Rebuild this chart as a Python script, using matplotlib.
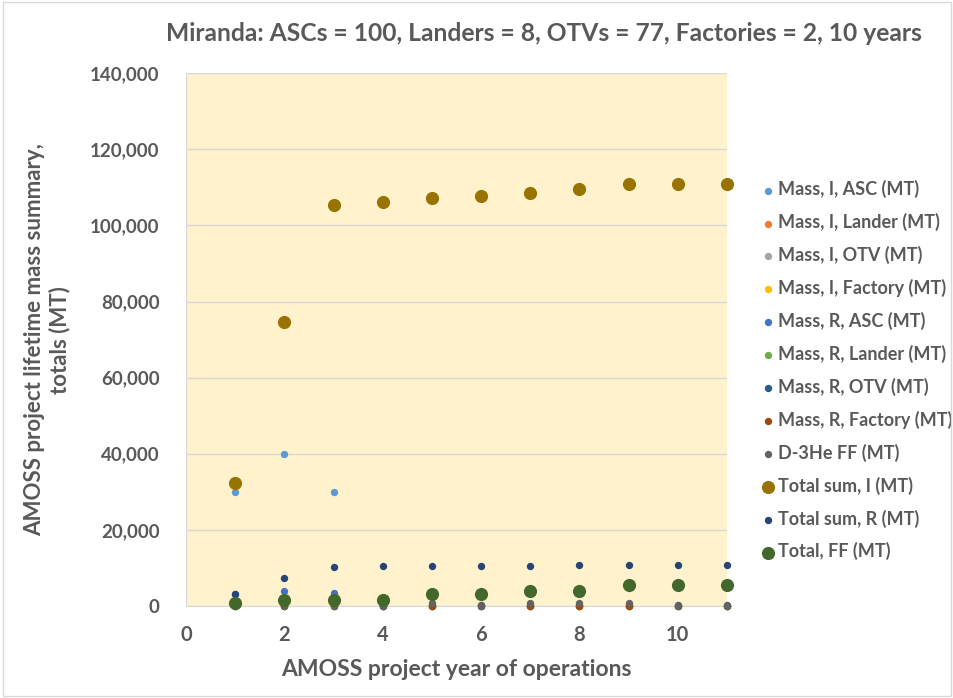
import matplotlib
matplotlib.use("Agg")
import matplotlib.pyplot as plt
from matplotlib.ticker import FuncFormatter
from matplotlib.patches import Rectangle

plt.rcParams['font.family'] = ['Lato', 'DejaVu Sans']
plt.rcParams['font.weight'] = 'bold'

years = [1, 2, 3, 4, 5, 6, 7, 8, 9, 10, 11]

mass_i_asc = [30000, 40000, 30000, 0, 0, 0, 0, 0, 0, 0, 0]
mass_i_lander = [0, 0, 0, 0, 0, 0, 0, 0, 0, 0, 0]
mass_i_otv = [0, 0, 0, 0, 0, 0, 0, 0, 0, 0, 0]
mass_i_factory = [0, 0, 0, 0, 0, 300, 0, 0, 0, 0, 0]
mass_r_asc = [3000, 4000, 3300, 0, 0, 0, 0, 0, 0, 0, 0]
mass_r_lander = [0, 0, 0, 0, 0, 0, 0, 0, 0, 0, 0]
mass_r_otv = [200, 300, 300, 300, 300, 300, 300, 300, 300, 300, 300]
mass_r_factory = [0, 0, 0, 0, 0, 0, 0, 0, 0, 0, 0]
d3he_ff = [0, 0, 0, 0, 700, 0, 700, 700, 800, 0, 0]
total_i = [32200, 74600, 105300, 106100, 107200, 107700, 108600, 109700, 110800, 110800, 110800]
total_r = [3100, 7300, 10300, 10600, 10600, 10600, 10600, 10800, 10800, 10800, 10800]
total_ff = [700, 1500, 1500, 1600, 3200, 3200, 4000, 4000, 5600, 5600, 5600]

series = [
    ("Mass, I, ASC (MT)", mass_i_asc, "#5B9BD5", 28),
    ("Mass, I, Lander (MT)", mass_i_lander, "#ED7D31", 28),
    ("Mass, I, OTV (MT)", mass_i_otv, "#A5A5A5", 28),
    ("Mass, I, Factory (MT)", mass_i_factory, "#FFC000", 28),
    ("Mass, R, ASC (MT)", mass_r_asc, "#4472C4", 28),
    ("Mass, R, Lander (MT)", mass_r_lander, "#70AD47", 28),
    ("Mass, R, OTV (MT)", mass_r_otv, "#255E91", 28),
    ("Mass, R, Factory (MT)", mass_r_factory, "#9E480E", 28),
    ("D-3He FF (MT)", d3he_ff, "#636363", 28),
    ("Total sum, I (MT)", total_i, "#997300", 90),
    ("Total sum, R (MT)", total_r, "#264478", 28),
    ("Total, FF (MT)", total_ff, "#43682B", 90),
]

fig = plt.figure(figsize=(9.54, 6.98), dpi=100)
fig.patches.append(Rectangle((0.003, 0.003), 0.994, 0.994, transform=fig.transFigure,
                             fill=False, edgecolor="#D9D9D9", linewidth=1))
ax = fig.add_axes([0.195, 0.132, 0.567, 0.763])
ax.set_facecolor("#FFF2CC")

for name, vals, col, s in series:
    ax.scatter(years, vals, s=s, color=col, label=name, zorder=3, linewidths=0, clip_on=False)

txt = "#595959"
ax.set_xlim(0, 11)
ax.set_ylim(0, 140000)
ax.set_xticks([0, 2, 4, 6, 8, 10])
ax.set_yticks(range(0, 140001, 20000))
ax.yaxis.set_major_formatter(FuncFormatter(lambda v, p: f"{int(v):,}"))
ax.grid(axis="y", color="#D9D9D9", linewidth=1, zorder=0)
ax.set_axisbelow(True)
for sp in ["top", "right"]:
    ax.spines[sp].set_visible(False)
ax.spines["left"].set_color("#D9D9D9")
ax.spines["bottom"].set_color("#D9D9D9")
ax.tick_params(axis="y", length=0, labelsize=13.5, labelcolor=txt, pad=19)
ax.tick_params(axis="x", length=0, labelsize=14.5, labelcolor=txt, pad=14)
for lab in ax.get_xticklabels() + ax.get_yticklabels():
    lab.set_fontweight("bold")

ax.set_xlabel("AMOSS project year of operations", fontsize=16.5, color=txt,
              fontweight="bold", labelpad=10)
ax.set_ylabel("AMOSS project lifetime mass summary,\ntotals (MT)", fontsize=16,
              color=txt, fontweight="bold", labelpad=14)
fig.suptitle("Miranda: ASCs = 100, Landers = 8, OTVs = 77, Factories = 2, 10 years",
             x=0.57, y=0.968, fontsize=17.7, color=txt, fontweight="bold")

leg = ax.legend(loc="upper left", bbox_to_anchor=(0.788, 0.752), bbox_transform=fig.transFigure,
                frameon=False, fontsize=13, labelspacing=0.82, handletextpad=0.05,
                borderaxespad=0, handlelength=1.0)
for t in leg.get_texts():
    t.set_color(txt)
    t.set_fontweight("bold")

fig.savefig("out.png", dpi=100)
